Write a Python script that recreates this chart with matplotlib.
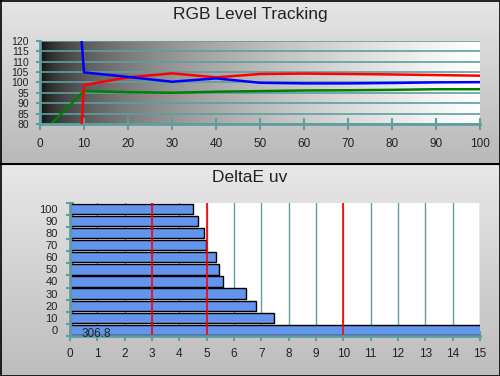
import numpy as np
import matplotlib
matplotlib.use("Agg")
import matplotlib.pyplot as plt
from matplotlib.colors import LinearSegmentedColormap

plt.rcParams['font.family'] = ['Liberation Sans', 'DejaVu Sans']

# ---- data ----
levels = [0, 10, 20, 30, 40, 50, 60, 70, 80, 90, 100]
red_vals = [-275, 98.7, 102.4, 104.3, 102.4, 104.0, 104.2, 104.0, 103.8, 103.5, 103.2]
green_vals = [74.7, 95.8, 95.3, 95.0, 95.5, 95.8, 96.1, 96.2, 96.4, 96.7, 96.7]
blue_vals = [380, 104.8, 102.6, 100.3, 101.9, 99.8, 99.5, 99.5, 99.7, 100.0, 100.1]

de_cats = ['0', '10', '20', '30', '40', '50', '60', '70', '80', '90', '100']
de_vals = [306.8, 7.48, 6.79, 6.43, 5.61, 5.46, 5.33, 4.99, 4.91, 4.70, 4.49]
de_label = '306.8'
red_limits = [3, 5, 10]

top_yticks = [80, 85, 90, 95, 100, 105, 110, 115, 120]
top_xticks = [0, 10, 20, 30, 40, 50, 60, 70, 80, 90, 100]
bot_xticks = list(range(0, 16))

W, H = 500, 376
teal = '#5f9ea0'
txt = '#222222'

fig = plt.figure(figsize=(W / 100, H / 100), dpi=100)

# ---- panel backgrounds ----
def panel_bg(y0, y1, c_top, c_bot):
    ax = fig.add_axes([0, 1 - y1 / H, 1, (y1 - y0) / H], zorder=-10)
    grad = np.linspace(0, 1, 256).reshape(-1, 1)
    cmap = LinearSegmentedColormap.from_list('g', [c_top, c_bot])
    ax.imshow(grad, aspect='auto', cmap=cmap, extent=[0, 1, 0, 1], origin='upper')
    ax.set_axis_off()
    return ax

panel_bg(0, 163, '#e6e6e6', '#b9b9b9')
panel_bg(163, 376, '#e8e8e8', '#bdbdbd')

# frame and divider
frame = fig.add_axes([0, 0, 1, 1], zorder=20)
frame.set_xlim(0, W)
frame.set_ylim(H, 0)
frame.set_axis_off()
frame.plot([0.5, W - 0.5, W - 0.5, 0.5, 0.5], [0.5, 0.5, H - 0.5, H - 0.5, 0.5], color='black', lw=1.2)
frame.plot([0, W], [163.5, 163.5], color='black', lw=1.5)
frame.patch.set_alpha(0)

fig.text(0.5, 1 - 15 / H, 'RGB Level Tracking', ha='center', va='center', fontsize=12.5, color=txt)
fig.text(0.5, 1 - 177 / H, 'DeltaE uv', ha='center', va='center', fontsize=12.5, color=txt)

# ---- top chart ----
ax1 = fig.add_axes([40 / W, 1 - 124 / H, 440 / W, 83.3 / H])
ax1.set_xlim(0, 100)
ax1.set_ylim(80, 120)
xg = np.linspace(0, 1, 512)
vals = xg ** 0.45
ax1.imshow(vals.reshape(1, -1), aspect='auto', cmap='gray', vmin=0, vmax=1,
           extent=[0, 100, 80, 120], zorder=0)
for yv in top_yticks:
    ax1.axhline(yv, color=teal, lw=1.2, zorder=1)
ax1.plot(levels, red_vals, color='#ff0000', lw=1.8, zorder=3)
ax1.plot(levels, blue_vals, color='#0000ff', lw=1.8, zorder=3)
ax1.plot(levels, green_vals, color='#008000', lw=1.8, zorder=2)
ax1.set_xticks(top_xticks)
ax1.set_yticks(top_yticks)
ax1.tick_params(axis='both', colors=teal, labelcolor=txt, width=1.5)
ax1.tick_params(axis='x', direction='inout', length=8, pad=6, labelsize=8.5)
ax1.tick_params(axis='y', direction='out', length=3, pad=5, labelsize=7.5)
for s in ['top', 'right']:
    ax1.spines[s].set_visible(False)
for s in ['left', 'bottom']:
    ax1.spines[s].set_color(teal)
    ax1.spines[s].set_linewidth(2)

# ---- bottom chart ----
ax2 = fig.add_axes([70 / W, 1 - 336 / H, 410 / W, 133.3 / H])
ax2.set_facecolor('white')
ypos = np.arange(len(de_cats))
ax2.set_xlim(0, 15)
ax2.set_ylim(-0.5, len(de_cats) - 0.5)
for xv in bot_xticks[1:]:
    ax2.axvline(xv, color=teal, lw=1.0, zorder=1)
ax2.barh(ypos, de_vals, height=0.85, color='#6495ed', edgecolor='black', lw=1.0, zorder=2)
for xv in red_limits:
    ax2.axvline(xv, color='#ff0000', lw=1.2, zorder=4)
ax2.text(0.43, -0.3, de_label, ha='left', va='center', fontsize=8.5, color=txt, zorder=6)
ax2.set_xticks(bot_xticks)
ax2.set_yticks(ypos)
ax2.set_yticklabels(de_cats)
ax2.set_yticks(np.arange(-0.5, len(de_cats), 1.0), minor=True)
ax2.tick_params(axis='both', which='both', colors=teal, labelcolor=txt, width=1.5)
ax2.tick_params(axis='y', which='major', length=0, pad=9, labelsize=8)
ax2.tick_params(axis='y', which='minor', direction='inout', length=6)
ax2.tick_params(axis='x', direction='inout', length=7, pad=5, labelsize=8.5)
for s in ['top', 'right']:
    ax2.spines[s].set_visible(False)
for s in ['left', 'bottom']:
    ax2.spines[s].set_color(teal)
    ax2.spines[s].set_linewidth(2)
    ax2.spines[s].set_zorder(5)

fig.savefig('out.png', dpi=100)
